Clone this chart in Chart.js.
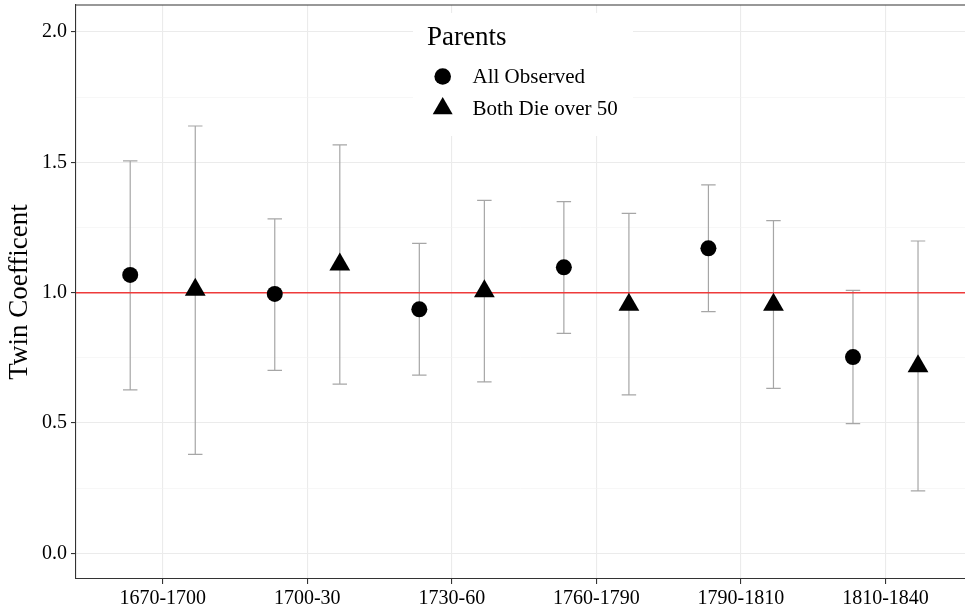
<!DOCTYPE html>
<html>
<head>
<meta charset="utf-8">
<script src="https://cdn.jsdelivr.net/npm/chart.js@4"></script>
<style>
  html, body { margin: 0; padding: 0; background: #fff; }
  #wrap { width: 965px; height: 613px; }
</style>
</head>
<body>
<div id="wrap"><canvas id="chart" width="965" height="613"></canvas></div>
<script>
// ─── Data ────────────────────────────────────────────────────────
const periods = ['1670-1700', '1700-30', '1730-60', '1760-1790', '1790-1810', '1810-1840'];
const seriesNames = ['All Observed', 'Both Die over 50'];
const allEst = [1.068, 0.995, 0.936, 1.097, 1.170, 0.753];
const allLow = [0.627, 0.702, 0.684, 0.844, 0.927, 0.498];
const allHigh = [1.505, 1.283, 1.189, 1.349, 1.413, 1.009];
const over50Est = [1.011, 1.108, 1.005, 0.954, 0.954, 0.718];
const over50Low = [0.380, 0.649, 0.658, 0.608, 0.633, 0.240];
const over50High = [1.639, 1.567, 1.354, 1.304, 1.276, 1.198];
const yMajor = [0, 0.5, 1.0, 1.5, 2.0];
const yMinor = [0.25, 0.75, 1.25, 1.75];
const refLine = 1.0;

const dodge = 0.225;
const serif = "'Liberation Serif', 'Times New Roman', serif";
Chart.defaults.font.family = serif;
Chart.defaults.color = '#000';

function points(est, low, high, shift) {
  return est.map((v, i) => ({ x: i + 1 + shift, y: v, low: low[i], high: high[i] }));
}

// no extra room for overhanging tick labels, the panel fills the canvas
function noPadding(scale) {
  scale.paddingTop = 0;
  scale.paddingBottom = 0;
  scale.paddingLeft = 0;
  scale.paddingRight = 0;
}

// Error bars + reference line, drawn under the points
const errorBars = {
  id: 'errorBars',
  beforeDatasetsDraw(chart) {
    const { ctx, chartArea, scales: { x, y } } = chart;
    ctx.save();
    ctx.strokeStyle = '#a6a6a6';
    ctx.lineWidth = 1.2;
    chart.data.datasets.forEach(ds => {
      ds.data.forEach(p => {
        const px = x.getPixelForValue(p.x);
        const x0 = x.getPixelForValue(p.x - 0.05);
        const x1 = x.getPixelForValue(p.x + 0.05);
        const yl = y.getPixelForValue(p.low);
        const yh = y.getPixelForValue(p.high);
        ctx.beginPath();
        ctx.moveTo(px, yl); ctx.lineTo(px, yh);
        ctx.moveTo(x0, yl); ctx.lineTo(x1, yl);
        ctx.moveTo(x0, yh); ctx.lineTo(x1, yh);
        ctx.stroke();
      });
    });
    const yr = y.getPixelForValue(refLine);
    ctx.strokeStyle = '#ee3b3b';
    ctx.lineWidth = 1.5;
    ctx.beginPath();
    ctx.moveTo(chartArea.left, yr); ctx.lineTo(chartArea.right, yr);
    ctx.stroke();
    ctx.restore();
  }
};

// Panel top border and the "Parents" legend box
const frameLegend = {
  id: 'frameLegend',
  afterDraw(chart) {
    const { ctx, chartArea } = chart;
    ctx.save();
    ctx.strokeStyle = '#333';
    ctx.lineWidth = 1.1;
    ctx.beginPath();
    ctx.moveTo(chartArea.left, chartArea.top); ctx.lineTo(chartArea.right, chartArea.top);
    ctx.stroke();

    ctx.fillStyle = '#fff';
    ctx.fillRect(413, 13, 220, 123);

    ctx.fillStyle = '#000';
    ctx.textAlign = 'left';
    ctx.textBaseline = 'alphabetic';
    ctx.font = '27px ' + serif;
    ctx.fillText('Parents', 427, 45);

    const keys = [
      { style: 'circle', r: 8.3, y: 76.5, ty: 83 },
      { style: 'triangle', r: 11.5, y: 108.5, ty: 115 }
    ];
    ctx.font = '21px ' + serif;
    keys.forEach((k, i) => {
      ctx.fillStyle = '#000';
      Chart.helpers.drawPoint(ctx, { pointStyle: k.style, radius: k.r, rotation: 0, borderWidth: 0 }, 442.7, k.y);
      ctx.fillText(seriesNames[i], 472.5, k.ty);
    });
    ctx.restore();
  }
};

new Chart(document.getElementById('chart'), {
  type: 'scatter',
  data: {
    datasets: [
      {
        label: seriesNames[0],
        data: points(allEst, allLow, allHigh, -dodge),
        pointStyle: 'circle',
        pointRadius: 8,
        backgroundColor: '#000',
        borderWidth: 0
      },
      {
        label: seriesNames[1],
        data: points(over50Est, over50Low, over50High, dodge),
        pointStyle: 'triangle',
        pointRadius: 12,
        backgroundColor: '#000',
        borderWidth: 0
      }
    ]
  },
  options: {
    responsive: false,
    devicePixelRatio: 1,
    animation: false,
    events: [],
    layout: { autoPadding: false, padding: { top: 5, left: 0, right: 0, bottom: 0 } },
    plugins: {
      legend: { display: false },
      tooltip: { enabled: false }
    },
    scales: {
      x: {
        type: 'linear',
        min: 0.4,
        max: 6.55,
        afterBuildTicks: scale => { scale.ticks = periods.map((_, i) => ({ value: i + 1 })); },
        afterFit: scale => { scale.height = 34; noPadding(scale); },
        ticks: {
          autoSkip: false,
          maxRotation: 0,
          padding: 3,
          color: '#000',
          font: { size: 20 },
          callback: v => periods[Math.round(v) - 1]
        },
        grid: { color: '#ebebeb', lineWidth: 1.1, tickColor: '#333', tickLength: 5 },
        border: { display: true, color: '#333', width: 1.1 }
      },
      y: {
        min: -0.098,
        max: 2.103,
        afterBuildTicks: scale => {
          scale.ticks = yMajor.concat(yMinor).sort((a, b) => a - b).map(v => ({ value: v }));
        },
        afterFit: scale => { scale.width = 76; noPadding(scale); },
        ticks: {
          padding: 4,
          color: '#000',
          font: { size: 20 },
          callback: v => yMajor.includes(v) ? v.toFixed(1) : ''
        },
        grid: {
          color: c => yMajor.includes(c.tick.value) ? '#ebebeb' : '#f2f2f2',
          lineWidth: c => yMajor.includes(c.tick.value) ? 1.1 : 0.6,
          tickColor: c => yMajor.includes(c.tick.value) ? '#333' : 'rgba(0,0,0,0)',
          tickLength: 5
        },
        border: { display: true, color: '#333', width: 1.1 },
        title: {
          display: true,
          text: 'Twin Coefficent',
          color: '#000',
          font: { size: 27 },
          padding: { top: 4, bottom: 0 }
        }
      }
    }
  },
  plugins: [errorBars, frameLegend]
});
</script>
</body>
</html>
